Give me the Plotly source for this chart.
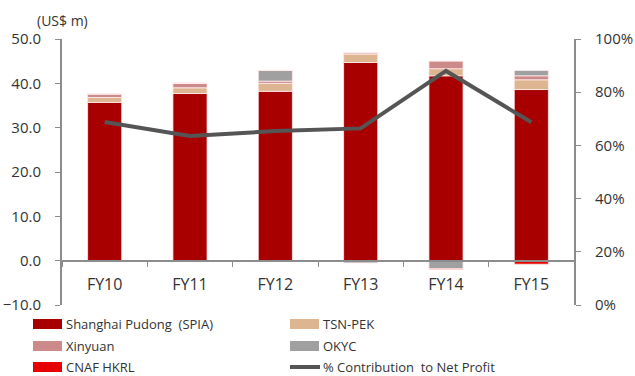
import plotly.graph_objects as go

years = ["FY10", "FY11", "FY12", "FY13", "FY14", "FY15"]
spia = [35.7, 37.7, 38.2, 44.7, 41.7, 38.6]
tsn_pek = [1.1, 1.3, 1.8, 1.9, 1.6, 2.2]
xinyuan = [0.7, 1.0, 0.5, 0.3, 1.7, 0.9]
okyc = [0.2, 0.0, 2.4, -0.5, -1.8, 1.2]
cnaf = [0.0, 0.0, 0.0, 0.0, -0.2, -0.8]
contrib = [0.688, 0.635, 0.654, 0.664, 0.88, 0.687]

names = ["Shanghai Pudong  (SPIA)", "TSN-PEK", "Xinyuan", "OKYC", "CNAF HKRL",
         "% Contribution  to Net Profit"]
colors = ["#A80000", "#DDB691", "#CD8A8A", "#A0A0A0", "#E60000", "#555555"]

fig = go.Figure()
for vals, nm, c in zip([spia, tsn_pek, xinyuan, okyc, cnaf], names[:5], colors[:5]):
    fig.add_trace(go.Bar(x=years, y=vals, name=nm, marker=dict(color=c,
                  line=dict(color="rgba(255,235,235,0.8)", width=1)), showlegend=False))
fig.add_trace(go.Scatter(x=years, y=contrib, yaxis="y2", mode="lines", name=names[5],
                         line=dict(color=colors[5], width=4), showlegend=False))

axcol = "#8c8c8c"
fnt = dict(family="Open Sans, DejaVu Sans, sans-serif", size=15, color="#333333")
fig.update_layout(
    width=635, height=376, barmode="relative", bargap=0.6,
    margin=dict(l=62, r=61, t=39, b=71, autoexpand=False),
    plot_bgcolor="white", paper_bgcolor="white", font=fnt,
    xaxis=dict(anchor="free", position=1/6, showline=True, linecolor=axcol, linewidth=2,
               ticks="outside", tickson="boundaries", ticklen=5, tickcolor=axcol,
               tickfont=dict(size=16), showgrid=False, ticklabelstandoff=9, automargin=False),
    yaxis=dict(range=[-10, 50], dtick=10, tickformat=".1f", showline=True, linecolor=axcol,
               linewidth=2, ticks="outside", ticklen=5, tickcolor=axcol, showgrid=False,
               zeroline=False, ticklabelstandoff=11, automargin=False),
    yaxis2=dict(range=[0, 1], dtick=0.2, tickformat=".0%", overlaying="y", side="right",
                showline=True, linecolor=axcol, linewidth=2, ticks="outside", ticklen=5,
                tickcolor=axcol, showgrid=False, zeroline=False, ticklabelstandoff=11,
                automargin=False),
)

fig.add_annotation(text="(US$ m)", x=(35 - 62) / 512, y=(305 - 21) / 266, xref="paper",
                   yref="paper", xanchor="left", yanchor="middle", showarrow=False,
                   font=dict(size=14, color="#333333"))

# custom legend
cols_px = [33, 290]
rows_px = [324, 346, 367]
px = lambda v: (v - 62) / 512
py = lambda v: (305 - v) / 266
for i, (nm, c) in enumerate(zip(names, colors)):
    r, col = divmod(i, 2)
    x0 = cols_px[col]
    yc = rows_px[r]
    if i < 5:
        fig.add_shape(type="rect", xref="paper", yref="paper", x0=px(x0), x1=px(x0 + 29),
                      y0=py(yc + 5), y1=py(yc - 5), fillcolor=c, line=dict(width=0))
    else:
        fig.add_shape(type="line", xref="paper", yref="paper", x0=px(x0), x1=px(x0 + 30),
                      y0=py(yc), y1=py(yc), line=dict(color=c, width=4))
    fig.add_annotation(text=nm, x=px(x0 + 32), y=py(yc), xref="paper", yref="paper",
                       xanchor="left", yanchor="middle", showarrow=False, borderpad=0,
                       font=dict(size=13, color="#333333"))

fig.write_html("out.html")
